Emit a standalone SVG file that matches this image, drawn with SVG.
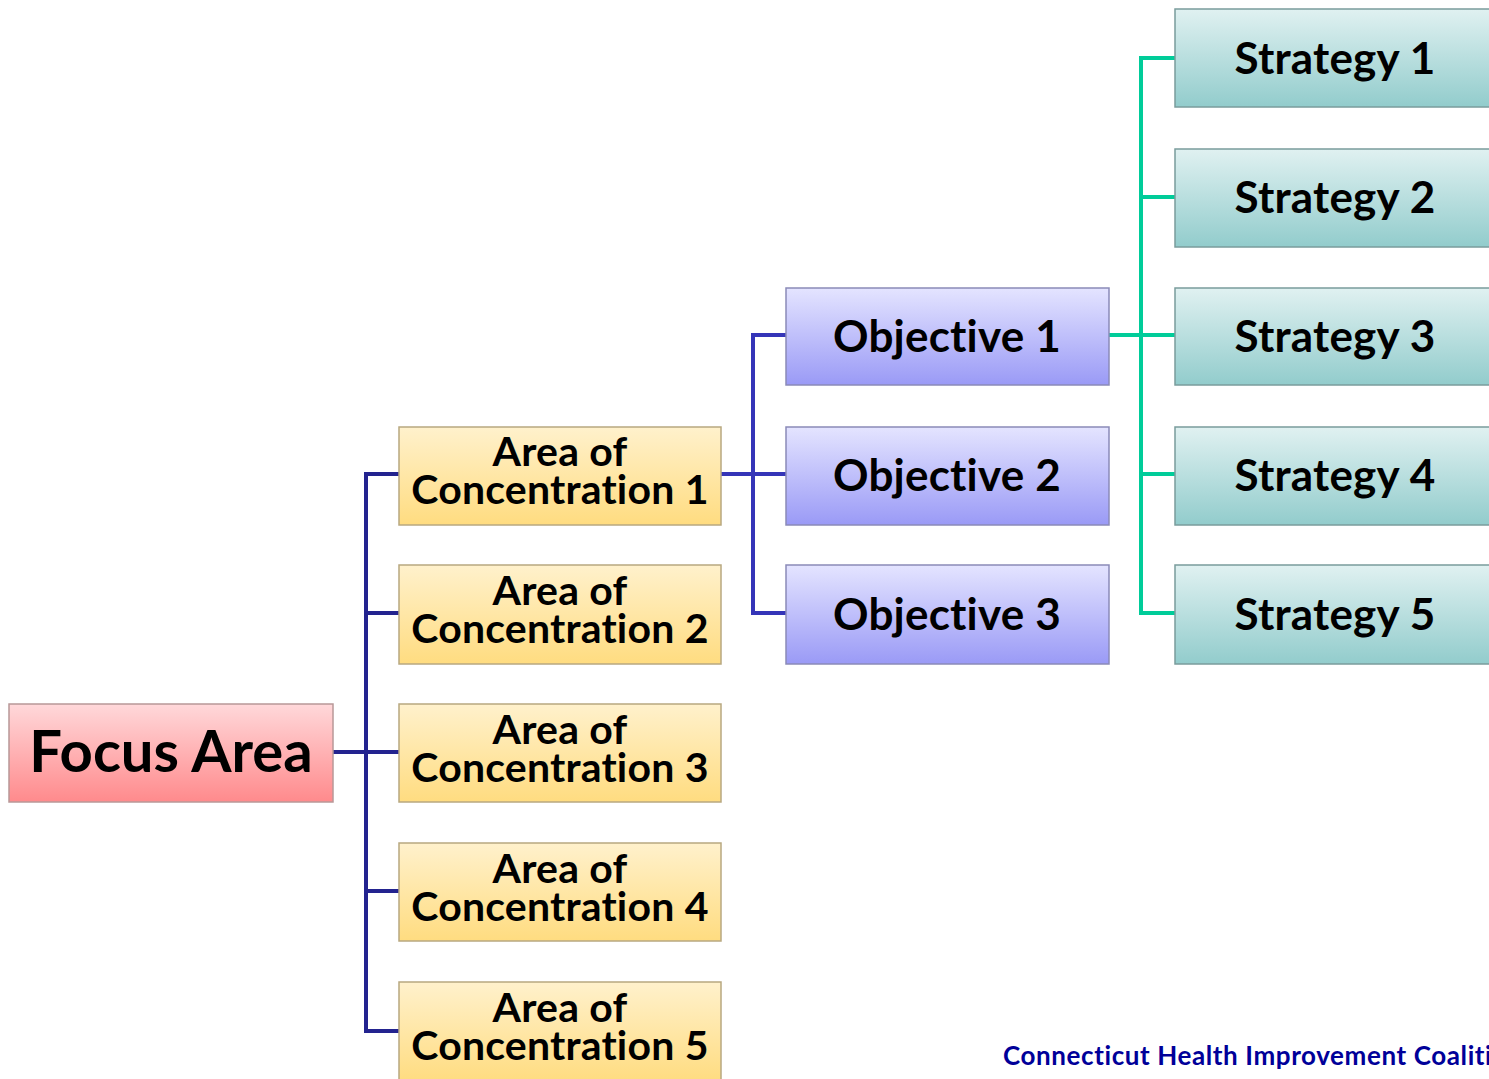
<svg xmlns="http://www.w3.org/2000/svg" width="1489" height="1079" viewBox="0 0 1489 1079">
<defs>
<linearGradient id="gFocus" x1="0" y1="0" x2="0" y2="1"><stop offset="0" stop-color="#ffd8da"/><stop offset="1" stop-color="#ff8a8c"/></linearGradient>
<linearGradient id="gArea" x1="0" y1="0" x2="0" y2="1"><stop offset="0" stop-color="#fff1cc"/><stop offset="1" stop-color="#ffdc80"/></linearGradient>
<linearGradient id="gObj" x1="0" y1="0" x2="0" y2="1"><stop offset="0" stop-color="#e4e4ff"/><stop offset="1" stop-color="#9a9af6"/></linearGradient>
<linearGradient id="gStr" x1="0" y1="0" x2="0" y2="1"><stop offset="0" stop-color="#e0f1f1"/><stop offset="1" stop-color="#92cccc"/></linearGradient>
</defs>
<style>
text{font-family:Lato,"Open Sans","Liberation Sans",sans-serif;font-weight:bold;fill:#000;text-anchor:middle}
.focus rect{fill:url(#gFocus);stroke:#b89898;stroke-width:1.5}
.area rect{fill:url(#gArea);stroke:#b8a880;stroke-width:1.5}
.obj rect{fill:url(#gObj);stroke:#8a8ab8;stroke-width:1.5}
.str rect{fill:url(#gStr);stroke:#7a9c9c;stroke-width:1.5}
.t56{font-size:58px}
.t40{font-size:41px;letter-spacing:0.2px}
.t44{font-size:44px;letter-spacing:0.2px}
.navy{fill:none;stroke:#23238f;stroke-width:4}
.blue{fill:none;stroke:#3535b8;stroke-width:4}
.teal{fill:none;stroke:#00cc99;stroke-width:4}
.footer{font-size:26px;letter-spacing:0.6px;fill:#000099;text-anchor:start}
</style>
<rect width="1489" height="1079" fill="#fff"/>
<g id="connectors">
<path class="navy" d="M333 752H366M399 474H366V1031H399M366 613H399M366 752H399M366 891H399"/>
<path class="blue" d="M721 474H786M786 335H753V613H786"/>
<path class="teal" d="M1109 335H1175M1175 58H1141V613H1175M1141 197H1175M1141 474H1175"/>
</g>
<g id="focus" class="focus"><rect x="9" y="704" width="324" height="98"/><text class="t56" x="171" y="772">Focus Area</text></g>
<g id="area1" class="area"><rect x="399" y="427" width="322" height="98"/><text class="t40" x="560" y="466">Area of</text><text class="t40" x="560" y="504">Concentration 1</text></g>
<g id="area2" class="area"><rect x="399" y="565" width="322" height="99"/><text class="t40" x="560" y="605">Area of</text><text class="t40" x="560" y="643">Concentration 2</text></g>
<g id="area3" class="area"><rect x="399" y="704" width="322" height="98"/><text class="t40" x="560" y="744">Area of</text><text class="t40" x="560" y="782">Concentration 3</text></g>
<g id="area4" class="area"><rect x="399" y="843" width="322" height="98"/><text class="t40" x="560" y="883">Area of</text><text class="t40" x="560" y="921">Concentration 4</text></g>
<g id="area5" class="area"><rect x="399" y="982" width="322" height="100"/><text class="t40" x="560" y="1022">Area of</text><text class="t40" x="560" y="1060">Concentration 5</text></g>
<g id="obj1" class="obj"><rect x="786" y="288" width="323" height="97"/><text class="t44" x="947" y="352">Objective 1</text></g>
<g id="obj2" class="obj"><rect x="786" y="427" width="323" height="98"/><text class="t44" x="947" y="491">Objective 2</text></g>
<g id="obj3" class="obj"><rect x="786" y="565" width="323" height="99"/><text class="t44" x="947" y="630">Objective 3</text></g>
<g id="str1" class="str"><rect x="1175" y="9" width="320" height="98"/><text class="t44" x="1335" y="74">Strategy 1</text></g>
<g id="str2" class="str"><rect x="1175" y="149" width="320" height="98"/><text class="t44" x="1335" y="213">Strategy 2</text></g>
<g id="str3" class="str"><rect x="1175" y="288" width="320" height="97"/><text class="t44" x="1335" y="352">Strategy 3</text></g>
<g id="str4" class="str"><rect x="1175" y="427" width="320" height="98"/><text class="t44" x="1335" y="491">Strategy 4</text></g>
<g id="str5" class="str"><rect x="1175" y="565" width="320" height="99"/><text class="t44" x="1335" y="630">Strategy 5</text></g>
<text class="footer" x="1003" y="1065">Connecticut Health Improvement Coalition</text>
</svg>
